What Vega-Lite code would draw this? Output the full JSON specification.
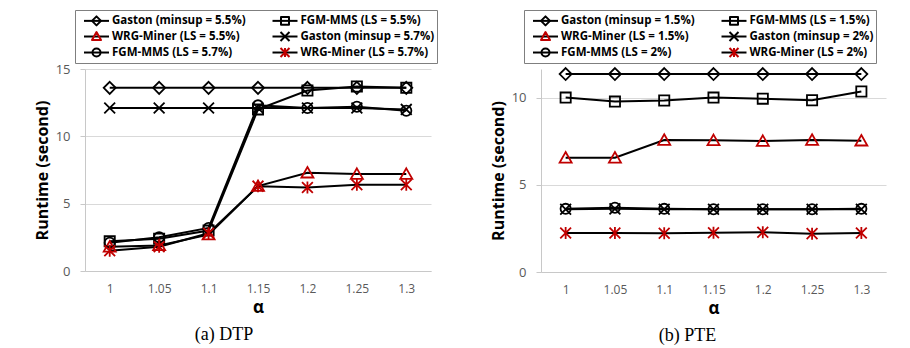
{
  "$schema": "https://vega.github.io/schema/vega-lite/v6.json",
  "padding": {"left": 34, "top": 9, "right": 5, "bottom": 2},
  "background": "white",
  "spacing": 52,
  "config": {
    "font": "Open Sans",
    "view": {"stroke": null},
    "axis": {
      "gridColor": "#d9d9d9",
      "domainColor": "#c8c8c8",
      "tickColor": "#c8c8c8",
      "labelColor": "#595959",
      "labelFont": "Open Sans",
      "titleFont": "Open Sans",
      "titleColor": "#000000",
      "titleFontWeight": "bold"
    },
    "axisX": {"grid": false, "ticks": false, "labelAngle": 0, "labelFontSize": 12, "labelPadding": 12, "titleFontSize": 17, "titlePadding": 5},
    "axisY": {"tickSize": 5, "labelFontSize": 13, "labelPadding": 10, "titleFontSize": 16, "titlePadding": 5},
    "title": {"font": "Liberation Serif", "fontSize": 18, "fontWeight": "normal", "color": "#000000", "orient": "bottom", "offset": 11, "frame": "group"}
  },
  "datasets": {
    "dtp": [
      {"alpha": "1", "series": "Gaston (minsup = 5.5%)", "runtime": 13.6},
      {"alpha": "1.05", "series": "Gaston (minsup = 5.5%)", "runtime": 13.6},
      {"alpha": "1.1", "series": "Gaston (minsup = 5.5%)", "runtime": 13.6},
      {"alpha": "1.15", "series": "Gaston (minsup = 5.5%)", "runtime": 13.6},
      {"alpha": "1.2", "series": "Gaston (minsup = 5.5%)", "runtime": 13.6},
      {"alpha": "1.25", "series": "Gaston (minsup = 5.5%)", "runtime": 13.6},
      {"alpha": "1.3", "series": "Gaston (minsup = 5.5%)", "runtime": 13.6},
      {"alpha": "1", "series": "FGM-MMS (LS = 5.5%)", "runtime": 2.2},
      {"alpha": "1.05", "series": "FGM-MMS (LS = 5.5%)", "runtime": 2.4},
      {"alpha": "1.1", "series": "FGM-MMS (LS = 5.5%)", "runtime": 3.0},
      {"alpha": "1.15", "series": "FGM-MMS (LS = 5.5%)", "runtime": 12.0},
      {"alpha": "1.2", "series": "FGM-MMS (LS = 5.5%)", "runtime": 13.4},
      {"alpha": "1.25", "series": "FGM-MMS (LS = 5.5%)", "runtime": 13.7},
      {"alpha": "1.3", "series": "FGM-MMS (LS = 5.5%)", "runtime": 13.6},
      {"alpha": "1", "series": "WRG-Miner (LS = 5.5%)", "runtime": 1.8},
      {"alpha": "1.05", "series": "WRG-Miner (LS = 5.5%)", "runtime": 1.9},
      {"alpha": "1.1", "series": "WRG-Miner (LS = 5.5%)", "runtime": 2.7},
      {"alpha": "1.15", "series": "WRG-Miner (LS = 5.5%)", "runtime": 6.3},
      {"alpha": "1.2", "series": "WRG-Miner (LS = 5.5%)", "runtime": 7.3},
      {"alpha": "1.25", "series": "WRG-Miner (LS = 5.5%)", "runtime": 7.2},
      {"alpha": "1.3", "series": "WRG-Miner (LS = 5.5%)", "runtime": 7.2},
      {"alpha": "1", "series": "Gaston (minsup = 5.7%)", "runtime": 12.1},
      {"alpha": "1.05", "series": "Gaston (minsup = 5.7%)", "runtime": 12.1},
      {"alpha": "1.1", "series": "Gaston (minsup = 5.7%)", "runtime": 12.1},
      {"alpha": "1.15", "series": "Gaston (minsup = 5.7%)", "runtime": 12.1},
      {"alpha": "1.2", "series": "Gaston (minsup = 5.7%)", "runtime": 12.1},
      {"alpha": "1.25", "series": "Gaston (minsup = 5.7%)", "runtime": 12.1},
      {"alpha": "1.3", "series": "Gaston (minsup = 5.7%)", "runtime": 12.0},
      {"alpha": "1", "series": "FGM-MMS (LS = 5.7%)", "runtime": 2.1},
      {"alpha": "1.05", "series": "FGM-MMS (LS = 5.7%)", "runtime": 2.5},
      {"alpha": "1.1", "series": "FGM-MMS (LS = 5.7%)", "runtime": 3.2},
      {"alpha": "1.15", "series": "FGM-MMS (LS = 5.7%)", "runtime": 12.3},
      {"alpha": "1.2", "series": "FGM-MMS (LS = 5.7%)", "runtime": 12.1},
      {"alpha": "1.25", "series": "FGM-MMS (LS = 5.7%)", "runtime": 12.2},
      {"alpha": "1.3", "series": "FGM-MMS (LS = 5.7%)", "runtime": 11.9},
      {"alpha": "1", "series": "WRG-Miner (LS = 5.7%)", "runtime": 1.5},
      {"alpha": "1.05", "series": "WRG-Miner (LS = 5.7%)", "runtime": 1.8},
      {"alpha": "1.1", "series": "WRG-Miner (LS = 5.7%)", "runtime": 2.8},
      {"alpha": "1.15", "series": "WRG-Miner (LS = 5.7%)", "runtime": 6.3},
      {"alpha": "1.2", "series": "WRG-Miner (LS = 5.7%)", "runtime": 6.2},
      {"alpha": "1.25", "series": "WRG-Miner (LS = 5.7%)", "runtime": 6.4},
      {"alpha": "1.3", "series": "WRG-Miner (LS = 5.7%)", "runtime": 6.4}
    ],
    "pte": [
      {"alpha": "1", "series": "Gaston (minsup = 1.5%)", "runtime": 11.35},
      {"alpha": "1.05", "series": "Gaston (minsup = 1.5%)", "runtime": 11.35},
      {"alpha": "1.1", "series": "Gaston (minsup = 1.5%)", "runtime": 11.35},
      {"alpha": "1.15", "series": "Gaston (minsup = 1.5%)", "runtime": 11.35},
      {"alpha": "1.2", "series": "Gaston (minsup = 1.5%)", "runtime": 11.35},
      {"alpha": "1.25", "series": "Gaston (minsup = 1.5%)", "runtime": 11.35},
      {"alpha": "1.3", "series": "Gaston (minsup = 1.5%)", "runtime": 11.35},
      {"alpha": "1", "series": "FGM-MMS (LS = 1.5%)", "runtime": 10.0},
      {"alpha": "1.05", "series": "FGM-MMS (LS = 1.5%)", "runtime": 9.77},
      {"alpha": "1.1", "series": "FGM-MMS (LS = 1.5%)", "runtime": 9.83},
      {"alpha": "1.15", "series": "FGM-MMS (LS = 1.5%)", "runtime": 10.0},
      {"alpha": "1.2", "series": "FGM-MMS (LS = 1.5%)", "runtime": 9.94},
      {"alpha": "1.25", "series": "FGM-MMS (LS = 1.5%)", "runtime": 9.85},
      {"alpha": "1.3", "series": "FGM-MMS (LS = 1.5%)", "runtime": 10.35},
      {"alpha": "1", "series": "WRG-Miner (LS = 1.5%)", "runtime": 6.55},
      {"alpha": "1.05", "series": "WRG-Miner (LS = 1.5%)", "runtime": 6.55},
      {"alpha": "1.1", "series": "WRG-Miner (LS = 1.5%)", "runtime": 7.57},
      {"alpha": "1.15", "series": "WRG-Miner (LS = 1.5%)", "runtime": 7.55},
      {"alpha": "1.2", "series": "WRG-Miner (LS = 1.5%)", "runtime": 7.51},
      {"alpha": "1.25", "series": "WRG-Miner (LS = 1.5%)", "runtime": 7.57},
      {"alpha": "1.3", "series": "WRG-Miner (LS = 1.5%)", "runtime": 7.53},
      {"alpha": "1", "series": "Gaston (minsup = 2%)", "runtime": 3.6},
      {"alpha": "1.05", "series": "Gaston (minsup = 2%)", "runtime": 3.62},
      {"alpha": "1.1", "series": "Gaston (minsup = 2%)", "runtime": 3.6},
      {"alpha": "1.15", "series": "Gaston (minsup = 2%)", "runtime": 3.6},
      {"alpha": "1.2", "series": "Gaston (minsup = 2%)", "runtime": 3.6},
      {"alpha": "1.25", "series": "Gaston (minsup = 2%)", "runtime": 3.6},
      {"alpha": "1.3", "series": "Gaston (minsup = 2%)", "runtime": 3.6},
      {"alpha": "1", "series": "FGM-MMS (LS = 2%)", "runtime": 3.62},
      {"alpha": "1.05", "series": "FGM-MMS (LS = 2%)", "runtime": 3.68},
      {"alpha": "1.1", "series": "FGM-MMS (LS = 2%)", "runtime": 3.62},
      {"alpha": "1.15", "series": "FGM-MMS (LS = 2%)", "runtime": 3.6},
      {"alpha": "1.2", "series": "FGM-MMS (LS = 2%)", "runtime": 3.6},
      {"alpha": "1.25", "series": "FGM-MMS (LS = 2%)", "runtime": 3.6},
      {"alpha": "1.3", "series": "FGM-MMS (LS = 2%)", "runtime": 3.62},
      {"alpha": "1", "series": "WRG-Miner (LS = 2%)", "runtime": 2.24},
      {"alpha": "1.05", "series": "WRG-Miner (LS = 2%)", "runtime": 2.24},
      {"alpha": "1.1", "series": "WRG-Miner (LS = 2%)", "runtime": 2.22},
      {"alpha": "1.15", "series": "WRG-Miner (LS = 2%)", "runtime": 2.25},
      {"alpha": "1.2", "series": "WRG-Miner (LS = 2%)", "runtime": 2.28},
      {"alpha": "1.25", "series": "WRG-Miner (LS = 2%)", "runtime": 2.2},
      {"alpha": "1.3", "series": "WRG-Miner (LS = 2%)", "runtime": 2.24}
    ]
  },
  "hconcat": [
    {
      "width": 346,
      "height": 202,
      "data": {"name": "dtp"},
      "title": {"text": "(a) DTP", "dx": -34},
      "encoding": {
        "x": {"field": "alpha", "type": "ordinal", "sort": null, "scale": {"type": "point", "padding": 0.5}, "axis": {"title": "α"}},
        "y": {"field": "runtime", "type": "quantitative", "scale": {"domain": [0, 15], "nice": false}, "axis": {"values": [0, 5, 10, 15], "title": "Runtime (second)"}}
      },
      "layer": [
        {
          "mark": {"type": "line", "strokeWidth": 2},
          "encoding": {
            "color": {
              "field": "series", "type": "nominal",
              "scale": {"domain": ["Gaston (minsup = 5.5%)", "WRG-Miner (LS = 5.5%)", "FGM-MMS (LS = 5.7%)", "FGM-MMS (LS = 5.5%)", "Gaston (minsup = 5.7%)", "WRG-Miner (LS = 5.7%)"], "range": ["#000000", "#000000", "#000000", "#000000", "#000000", "#000000"]},
              "legend": {"orient": "none", "legendX": -10, "legendY": -59, "columns": 2, "title": null, "symbolSize": 196, "symbolStrokeWidth": 2, "labelFont": "Open Sans", "labelFontSize": 11.5, "labelFontWeight": "bold", "labelOffset": 18.5, "labelExpr": "''", "padding": 2.5, "rowPadding": 0.01, "columnPadding": 7.5,
                "encoding": {"symbols": {"size": {"value": 196}, "strokeWidth": {"value": 2}, "strokeJoin": {"value": "round"}, "stroke": {"value": "#000000"}, "shape": {"value": {"expr": "indexof(['Gaston (minsup = 5.5%)','WRG-Miner (LS = 5.5%)','FGM-MMS (LS = 5.7%)'], datum.value) >= 0 ? 'M-0.857,-0.893M-0.857,0.893M24.5,0M-0.214,0H3.357' : 'M-0.857,-0.893M-0.857,0.893M-0.214,0H3.357'"}}}}
              }
            }
          }
        },
        {
          "mark": {"type": "point", "filled": false, "strokeWidth": 1.8, "size": 144, "opacity": 1},
          "encoding": {
            "color": {
              "field": "series", "type": "nominal",
              "scale": {"domain": ["Gaston (minsup = 5.5%)", "WRG-Miner (LS = 5.5%)", "FGM-MMS (LS = 5.7%)", "FGM-MMS (LS = 5.5%)", "Gaston (minsup = 5.7%)", "WRG-Miner (LS = 5.7%)"], "range": ["#000000", "#c00000", "#000000", "#000000", "#000000", "#c00000"]},
              "legend": {"orient": "none", "legendX": -10, "legendY": -59, "columns": 2, "title": null, "symbolSize": 196, "symbolStrokeWidth": 2, "labelFont": "Open Sans", "labelFontSize": 11.5, "labelFontWeight": "bold", "labelColor": "#000000", "labelOffset": 18.5, "labelLimit": 400, "padding": 2.5, "rowPadding": 0.01, "columnPadding": 7.5, "strokeColor": "#7f7f7f",
                "encoding": {"symbols": {"size": {"value": 196}, "strokeWidth": {"value": 2}, "strokeJoin": {"value": "round"}, "shape": {"value": {"expr": "['M-0.857,-0.893M-0.857,0.893M24.5,0M1.571,-0.643L2.214,0L1.571,0.643L0.929,0Z','M-0.857,-0.893M-0.857,0.893M24.5,0M1.571,-0.643L2.214,0.5L0.929,0.5Z','M-0.857,-0.893M-0.857,0.893M24.5,0M2.143,0A0.571,0.571 0 1,1 1,0A0.571,0.571 0 1,1 2.143,0Z','M-0.857,-0.893M-0.857,0.893M1,-0.571H2.143V0.571H1Z','M-0.857,-0.893M-0.857,0.893M0.929,-0.643L2.214,0.643M0.929,0.643L2.214,-0.643','M-0.857,-0.893M-0.857,0.893M0.929,-0.643L2.214,0.643M0.929,0.643L2.214,-0.643M1.571,-0.643V0.643'][indexof(['Gaston (minsup = 5.5%)','WRG-Miner (LS = 5.5%)','FGM-MMS (LS = 5.7%)','FGM-MMS (LS = 5.5%)','Gaston (minsup = 5.7%)','WRG-Miner (LS = 5.7%)'], datum.value)]"}}}}
              }
            },
            "shape": {
              "field": "series", "type": "nominal",
              "scale": {"domain": ["Gaston (minsup = 5.5%)", "WRG-Miner (LS = 5.5%)", "FGM-MMS (LS = 5.7%)", "FGM-MMS (LS = 5.5%)", "Gaston (minsup = 5.7%)", "WRG-Miner (LS = 5.7%)"], "range": ["M0,-1L1,0L0,1L-1,0Z", "M0,-0.95L1,0.8H-1Z", "M0.85,0A0.85,0.85 0 1,1 -0.85,0A0.85,0.85 0 1,1 0.85,0Z", "M-0.85,-0.85H0.85V0.85H-0.85Z", "M-0.9,-0.9L0.9,0.9M-0.9,0.9L0.9,-0.9", "M-0.9,-0.9L0.9,0.9M-0.9,0.9L0.9,-0.9M0,-1V1"]},
              "legend": null
            }
          }
        }
      ],
      "resolve": {"scale": {"color": "independent"}, "legend": {"color": "independent"}}
    },
    {
      "width": 345,
      "height": 203,
      "data": {"name": "pte"},
      "title": {"text": "(b) PTE", "dx": -26},
      "encoding": {
        "x": {"field": "alpha", "type": "ordinal", "sort": null, "scale": {"type": "point", "padding": 0.5}, "axis": {"title": "α"}},
        "y": {"field": "runtime", "type": "quantitative", "scale": {"domain": [0, 11.64], "nice": false}, "axis": {"values": [0, 5, 10], "title": "Runtime (second)"}}
      },
      "layer": [
        {
          "mark": {"type": "line", "strokeWidth": 2},
          "encoding": {
            "color": {
              "field": "series", "type": "nominal",
              "scale": {"domain": ["Gaston (minsup = 1.5%)", "WRG-Miner (LS = 1.5%)", "FGM-MMS (LS = 2%)", "FGM-MMS (LS = 1.5%)", "Gaston (minsup = 2%)", "WRG-Miner (LS = 2%)"], "range": ["#000000", "#000000", "#000000", "#000000", "#000000", "#000000"]},
              "legend": {"orient": "none", "legendX": -17, "legendY": -59, "columns": 2, "title": null, "symbolSize": 196, "symbolStrokeWidth": 2, "labelFont": "Open Sans", "labelFontSize": 11.5, "labelFontWeight": "bold", "labelOffset": 18.5, "labelExpr": "''", "padding": 2.5, "rowPadding": 0.01, "columnPadding": 7.5,
                "encoding": {"symbols": {"size": {"value": 196}, "strokeWidth": {"value": 2}, "strokeJoin": {"value": "round"}, "stroke": {"value": "#000000"}, "shape": {"value": {"expr": "indexof(['Gaston (minsup = 1.5%)','WRG-Miner (LS = 1.5%)','FGM-MMS (LS = 2%)'], datum.value) >= 0 ? 'M-0.857,-0.893M-0.857,0.893M24.5,0M-0.214,0H3.357' : 'M-0.857,-0.893M-0.857,0.893M-0.214,0H3.357'"}}}}
              }
            }
          }
        },
        {
          "mark": {"type": "point", "filled": false, "strokeWidth": 1.8, "size": 144, "opacity": 1},
          "encoding": {
            "color": {
              "field": "series", "type": "nominal",
              "scale": {"domain": ["Gaston (minsup = 1.5%)", "WRG-Miner (LS = 1.5%)", "FGM-MMS (LS = 2%)", "FGM-MMS (LS = 1.5%)", "Gaston (minsup = 2%)", "WRG-Miner (LS = 2%)"], "range": ["#000000", "#c00000", "#000000", "#000000", "#000000", "#c00000"]},
              "legend": {"orient": "none", "legendX": -17, "legendY": -59, "columns": 2, "title": null, "symbolSize": 196, "symbolStrokeWidth": 2, "labelFont": "Open Sans", "labelFontSize": 11.5, "labelFontWeight": "bold", "labelColor": "#000000", "labelOffset": 18.5, "labelLimit": 400, "padding": 2.5, "rowPadding": 0.01, "columnPadding": 7.5, "strokeColor": "#7f7f7f",
                "encoding": {"symbols": {"size": {"value": 196}, "strokeWidth": {"value": 2}, "strokeJoin": {"value": "round"}, "shape": {"value": {"expr": "['M-0.857,-0.893M-0.857,0.893M24.5,0M1.571,-0.643L2.214,0L1.571,0.643L0.929,0Z','M-0.857,-0.893M-0.857,0.893M24.5,0M1.571,-0.643L2.214,0.5L0.929,0.5Z','M-0.857,-0.893M-0.857,0.893M24.5,0M2.143,0A0.571,0.571 0 1,1 1,0A0.571,0.571 0 1,1 2.143,0Z','M-0.857,-0.893M-0.857,0.893M1,-0.571H2.143V0.571H1Z','M-0.857,-0.893M-0.857,0.893M0.929,-0.643L2.214,0.643M0.929,0.643L2.214,-0.643','M-0.857,-0.893M-0.857,0.893M0.929,-0.643L2.214,0.643M0.929,0.643L2.214,-0.643M1.571,-0.643V0.643'][indexof(['Gaston (minsup = 1.5%)','WRG-Miner (LS = 1.5%)','FGM-MMS (LS = 2%)','FGM-MMS (LS = 1.5%)','Gaston (minsup = 2%)','WRG-Miner (LS = 2%)'], datum.value)]"}}}}
              }
            },
            "shape": {
              "field": "series", "type": "nominal",
              "scale": {"domain": ["Gaston (minsup = 1.5%)", "WRG-Miner (LS = 1.5%)", "FGM-MMS (LS = 2%)", "FGM-MMS (LS = 1.5%)", "Gaston (minsup = 2%)", "WRG-Miner (LS = 2%)"], "range": ["M0,-1L1,0L0,1L-1,0Z", "M0,-0.95L1,0.8H-1Z", "M0.85,0A0.85,0.85 0 1,1 -0.85,0A0.85,0.85 0 1,1 0.85,0Z", "M-0.85,-0.85H0.85V0.85H-0.85Z", "M-0.9,-0.9L0.9,0.9M-0.9,0.9L0.9,-0.9", "M-0.9,-0.9L0.9,0.9M-0.9,0.9L0.9,-0.9M0,-1V1"]},
              "legend": null
            }
          }
        }
      ],
      "resolve": {"scale": {"color": "independent"}, "legend": {"color": "independent"}}
    }
  ]
}
